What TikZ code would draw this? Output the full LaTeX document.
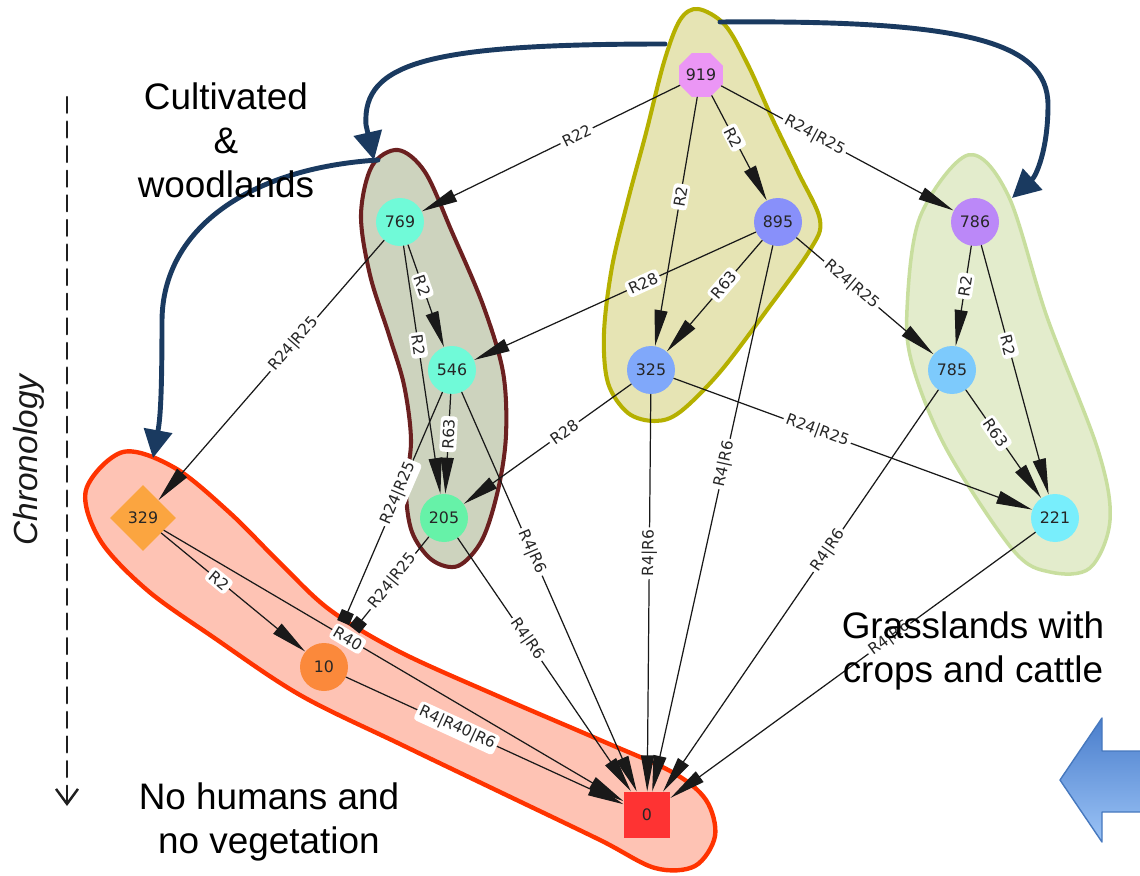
\documentclass[tikz,border=0pt]{standalone}
\usepackage{fontspec}
\setmainfont{Liberation Sans}
\newfontfamily\graphfont{DejaVu Sans}
\usetikzlibrary{arrows.meta, shapes.geometric}

\definecolor{olivefill}{RGB}{230,228,180}
\definecolor{oliveline}{RGB}{181,176,0}
\definecolor{barkfill}{RGB}{205,211,190}
\definecolor{barkline}{RGB}{107,32,32}
\definecolor{grassfill}{RGB}{227,236,204}
\definecolor{grassline}{RGB}{200,222,158}
\definecolor{barefill}{RGB}{254,195,180}
\definecolor{bareline}{RGB}{255,51,0}
\definecolor{jumpblue}{RGB}{26,58,96}
\definecolor{c919}{RGB}{235,150,245}
\definecolor{c769}{RGB}{112,250,216}
\definecolor{c205}{RGB}{102,242,168}
\definecolor{c895}{RGB}{136,144,250}
\definecolor{c325}{RGB}{128,168,250}
\definecolor{c786}{RGB}{187,136,248}
\definecolor{c785}{RGB}{125,202,252}
\definecolor{c221}{RGB}{120,238,252}
\definecolor{c329}{RGB}{251,165,64}
\definecolor{c10}{RGB}{251,137,59}
\definecolor{c0}{RGB}{254,51,51}

\begin{document}
\begin{tikzpicture}[
  x=0.02cm, y=-0.02cm,
  line cap=round,
  line join=round,
  vertex/.style={
    circle,
    minimum size=0.96cm,
    inner sep=0pt,
    text=black!85,
    font=\graphfont\fontsize{9}{10}\selectfont
  },
  link/.style={
    -{Triangle[length=7.2mm,width=2.6mm]},
    line width=0.7pt,
    draw=black!90
  },
  stub/.style={
    -{Square[length=2.4mm,width=2.6mm]},
    line width=0.7pt,
    draw=black!90,
    shorten >=4.8mm
  },
  elabel/.style={
    fill=white,
    rounded corners=2pt,
    inner sep=1.5pt,
    sloped,
    pos=0.4,
    text=black!85,
    font=\graphfont\fontsize{8.8}{10}\selectfont
  },
  hull/.style={
    line width=2.3pt
  },
  jump/.style={
    -{Triangle[length=5.6mm,width=5.6mm]},
    line width=2.8pt,
    draw=jumpblue
  },
  region/.style={
    align=center,
    font=\fontsize{21}{25}\selectfont
  },
  timeline/.style={
    -{Straight Barb[length=3mm,width=4.4mm]},
    dash pattern=on 9pt off 5pt,
    line width=1.4pt,
    draw=black!88
  }
]
\useasboundingbox (0,0) rectangle (1140,876);

% ------------------------------------------------
% Groups of states
% ------------------------------------------------
\filldraw[hull, draw=oliveline, fill=olivefill]
  plot[smooth cycle, tension=0.55] coordinates {
    (698,9) (725,25) (748,65) (772,118) (798,172) (820,220) (810,250)
    (767,310) (720,372) (680,412) (655,421) (628,413) (608,383)
    (604,333) (612,267) (628,200) (646,133) (664,62) (680,20)};

\filldraw[hull, draw=barkline, fill=barkfill]
  plot[smooth cycle, tension=0.55] coordinates {
    (398,150) (425,172) (452,232) (483,305) (503,372) (506,435)
    (498,490) (482,540) (458,566) (432,560) (412,532) (406,490)
    (411,440) (404,385) (389,335) (370,275) (361,215) (372,166)};

\filldraw[hull, line width=2pt, draw=grassline, fill=grassfill]
  plot[smooth cycle, tension=0.55] coordinates {
    (968,155) (1008,195) (1047,317) (1098,450) (1110,520) (1090,568)
    (1050,572) (1013,550) (947,450) (913,367) (907,310) (920,217)};

\filldraw[hull, line width=2.5pt, draw=bareline, fill=barefill]
  plot[smooth cycle, tension=0.55] coordinates {
    (123,452) (175,468) (230,513) (280,563) (330,610) (400,652)
    (500,697) (600,740) (672,772) (706,800) (715,836) (695,866)
    (655,868) (600,840) (500,792) (400,744) (300,695) (213,637)
    (147,590) (100,540) (86,490)};

% ------------------------------------------------
% Transitions between groups
% ------------------------------------------------
\coordinate (j1a) at (665,44);
\coordinate (j1b) at (374,160);
\coordinate (j2a) at (720,22);
\coordinate (j2b) at (1012,198);
\coordinate (j3a) at (378,160);
\coordinate (j3b) at (153,458);

\draw[jump] (j1a) .. controls (430,44) and (362,62) .. (366,125) -- (j1b);
\draw[jump] (j2a) .. controls (960,20) and (1048,40) .. (1048,105)
  .. controls (1048,150) and (1036,176) .. (j2b);
\draw[jump] (j3a) .. controls (250,168) and (163,228) .. (162,320)
  .. controls (162,400) and (160,420) .. (j3b);

% ------------------------------------------------
% States
% ------------------------------------------------
\node[vertex, regular polygon, regular polygon sides=8, minimum size=0.95cm,
  fill=c919] (n919) at (701,75) {919};
\node[vertex, fill=c769] (n769) at (400,222) {769};
\node[vertex, fill=c895] (n895) at (778,222) {895};
\node[vertex, fill=c786] (n786) at (975,222) {786};
\node[vertex, fill=c769] (n546) at (452,370) {546};
\node[vertex, fill=c325] (n325) at (651,370) {325};
\node[vertex, fill=c785] (n785) at (952,370) {785};
\node[vertex, diamond, aspect=1, minimum size=1.32cm, fill=c329]
  (n329) at (143,518) {329};
\node[vertex, fill=c205] (n205) at (444,518) {205};
\node[vertex, fill=c221] (n221) at (1055,518) {221};
\node[vertex, fill=c10] (n10) at (324,667) {10};
\node[vertex, rectangle, minimum size=0.93cm, fill=c0] (n0) at (647,815) {0};

% ------------------------------------------------
% Rules
% ------------------------------------------------
\draw[link] (n919) -- node[elabel]{R22} (n769);
\draw[link] (n919) -- node[elabel]{R2} (n895);
\draw[link] (n919) -- node[elabel]{R2} (n325);
\draw[link] (n919) -- node[elabel]{R24|R25} (n786);
\draw[link] (n769) -- node[elabel]{R2} (n546);
\draw[link] (n769) -- node[elabel]{R2} (n205);
\draw[link] (n769) -- node[elabel]{R24|R25} (n329);
\draw[link] (n895) -- node[elabel]{R28} (n546);
\draw[link] (n895) -- node[elabel]{R63} (n325);
\draw[link] (n895) -- node[elabel]{R24|R25} (n785);
\draw[link] (n895) -- node[elabel]{R4|R6} (n0);
\draw[link] (n786) -- node[elabel]{R2} (n785);
\draw[link] (n786) -- node[elabel]{R2} (n221);
\draw[link] (n546) -- node[elabel]{R63} (n205);
\draw[stub] (n546) -- node[elabel]{R24|R25} (n10);
\draw[link] (n546) -- node[elabel]{R4|R6} (n0);
\draw[link] (n325) -- node[elabel]{R28} (n205);
\draw[link] (n325) -- node[elabel]{R24|R25} (n221);
\draw[link] (n325) -- node[elabel]{R4|R6} (n0);
\draw[link] (n785) -- node[elabel]{R63} (n221);
\draw[link] (n785) -- node[elabel]{R4|R6} (n0);
\draw[stub] (n205) -- node[elabel]{R24|R25} (n10);
\draw[link] (n205) -- node[elabel]{R4|R6} (n0);
\draw[link] (n221) -- node[elabel]{R4|R6} (n0);
\draw[link] (n329) -- node[elabel]{R2} (n10);
\draw[link] (n329) -- node[elabel]{R40} (n0);
\draw[link] (n10) -- node[elabel]{R4|R40|R6} (n0);

% ------------------------------------------------
% Captions
% ------------------------------------------------
\node[region] (cultlabel) at (226,140) {Cultivated\\\&\\woodlands};
\node[region] (grasslabel) at (973,651) {Grasslands with\\crops and cattle};
\node[region] (barelabel) at (269,822) {No humans and\\no vegetation};

% Time axis
\coordinate (ttop) at (67,97);
\coordinate (tbottom) at (67,806);
\draw[timeline] (ttop) -- (tbottom);
\node[rotate=90, text=black!90, font=\itshape\fontsize{19}{22}\selectfont]
  (chronolabel) at (29,460) {Chronology};

% Block arrow, cut by the right edge
\shade[top color={rgb,255:red,74;green,126;blue,204},
  bottom color={rgb,255:red,155;green,195;blue,246},
  draw={rgb,255:red,70;green,120;blue,190}, line width=0.8pt]
  (1060,780) -- (1102,718) -- (1102,751) -- (1150,751) -- (1150,812)
  -- (1102,812) -- (1102,842) -- cycle;

\end{tikzpicture}
\end{document}
